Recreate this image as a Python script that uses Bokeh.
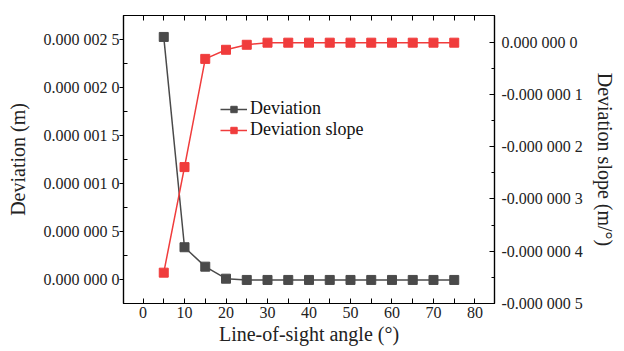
from bokeh.plotting import figure
from bokeh.models import (Range1d, LinearAxis, FixedTicker, CustomJSTickFormatter,
                          Legend, LegendItem)
from bokeh.embed import file_html
from bokeh.resources import INLINE

# ---- data ----
angle = [5, 10, 15, 20, 25, 30, 35, 40, 45, 50, 55, 60, 65, 70, 75]
deviation = [2.527e-6, 0.34e-6, 0.138e-6, 0.013e-6, 0.0, 0.0, 0.0, 0.0,
             0.0, 0.0, 0.0, 0.0, 0.0, 0.0, 0.0]
deviation_slope = [-4.41e-7, -2.39e-7, -0.32e-7, -0.146e-7, -0.05e-7, -0.01e-7,
                   -0.01e-7, -0.01e-7, -0.01e-7, -0.01e-7, -0.01e-7, -0.01e-7,
                   -0.01e-7, -0.01e-7, -0.01e-7]

x_ticks = [0, 10, 20, 30, 40, 50, 60, 70, 80]
x_minor = [5, 15, 25, 35, 45, 55, 65, 75]
left_ticks = [0.0, 0.5e-6, 1.0e-6, 1.5e-6, 2.0e-6, 2.5e-6]
left_labels = ["0.000 000 0", "0.000 000 5", "0.000 001 0", "0.000 001 5",
               "0.000 002 0", "0.000 002 5"]
left_minor = [0.25e-6, 0.75e-6, 1.25e-6, 1.75e-6, 2.25e-6]
right_ticks = [0.0, -1e-7, -2e-7, -3e-7, -4e-7, -5e-7]
right_labels = ["0.000 000 0", "-0.000 000 1", "-0.000 000 2", "-0.000 000 3",
                "-0.000 000 4", "-0.000 000 5"]
right_minor = [-0.5e-7, -1.5e-7, -2.5e-7, -3.5e-7, -4.5e-7]

GRAY = "#4a4a4a"
RED = "#f03c3c"
FONT = "Liberation Serif"
TXT = "#222222"

lookup_code = """
let best = 0, bd = Infinity;
for (let i = 0; i < vals.length; i++) {
  const d = Math.abs(vals[i] - tick);
  if (d < bd) { bd = d; best = i; }
}
return labs[best];
"""

p = figure(width=624, height=351, output_backend="svg", toolbar_location=None,
           x_range=Range1d(-4.7, 84.7), y_range=Range1d(-0.245e-6, 2.75e-6),
           min_border_left=123, min_border_right=130, min_border_top=15,
           min_border_bottom=48)
p.extra_y_ranges = {"slope": Range1d(-5e-7, 0.51e-7)}
p.grid.visible = False
p.outline_line_color = "black"
p.outline_line_width = 1.2
p.background_fill_color = "white"
p.border_fill_color = "white"

xa = p.xaxis[0]
xa.ticker = FixedTicker(ticks=x_ticks, minor_ticks=x_minor)
xa.axis_label = "Line-of-sight angle (°)"

ya = p.yaxis[0]
ya.ticker = FixedTicker(ticks=left_ticks, minor_ticks=left_minor)
ya.formatter = CustomJSTickFormatter(args=dict(vals=left_ticks, labs=left_labels),
                                     code=lookup_code)
ya.axis_label = "Deviation (m)"

ra = LinearAxis(y_range_name="slope",
                ticker=FixedTicker(ticks=right_ticks, minor_ticks=right_minor),
                formatter=CustomJSTickFormatter(args=dict(vals=right_ticks, labs=right_labels),
                                                code=lookup_code),
                axis_label="Deviation slope (m/°)")
p.add_layout(ra, "right")

ta = LinearAxis(ticker=FixedTicker(ticks=x_ticks, minor_ticks=x_minor),
                formatter=CustomJSTickFormatter(code="return '';"),
                major_label_standoff=0)
p.add_layout(ta, "above")

for ax in [xa, ya, ra, ta]:
    ax.axis_line_color = "black"
    ax.axis_line_width = 1.2
    ax.major_tick_line_color = "black"
    ax.minor_tick_line_color = "black"
    ax.major_label_text_font = FONT
    ax.major_label_text_font_size = "16px"
    ax.major_label_text_color = TXT
    ax.axis_label_text_font = FONT
    ax.axis_label_text_font_size = "20px"
    ax.axis_label_text_font_style = "normal"
    ax.axis_label_text_color = TXT
ta.major_label_text_font_size = "1px"

for ax in [xa, ta]:
    ax.major_tick_in = 5
    ax.major_tick_out = 0
    ax.minor_tick_in = 5
    ax.minor_tick_out = 0
xa.major_label_standoff = 3
xa.axis_label_standoff = 2

ya.major_tick_in = 0
ya.major_tick_out = 4
ya.minor_tick_in = 4
ya.minor_tick_out = 0
ya.major_label_standoff = 0
ya.axis_label_standoff = 12

ra.major_tick_in = 5
ra.major_tick_out = 0
ra.minor_tick_in = 3
ra.minor_tick_out = 0
ra.major_label_standoff = 7
ra.axis_label_standoff = 8

l1 = p.line(angle, deviation, line_color=GRAY, line_width=1.5)
s1 = p.scatter(angle, deviation, marker="square", size=9, fill_color=GRAY,
               line_color=GRAY)
l2 = p.line(angle, deviation_slope, line_color=RED, line_width=1.5, y_range_name="slope")
s2 = p.scatter(angle, deviation_slope, marker="square", size=9, fill_color=RED,
               line_color=RED, y_range_name="slope")

legend = Legend(items=[LegendItem(label="Deviation", renderers=[l1, s1]),
                       LegendItem(label="Deviation slope", renderers=[l2, s2])],
                location=(97, 163), border_line_color=None,
                background_fill_alpha=0, padding=0, margin=0, spacing=0,
                glyph_width=27, glyph_height=16, label_height=16,
                label_standoff=3, label_text_font=FONT,
                label_text_font_size="18px", label_text_color="#111111")
p.add_layout(legend, "center")

open("out.html", "w").write(file_html(p, INLINE))
